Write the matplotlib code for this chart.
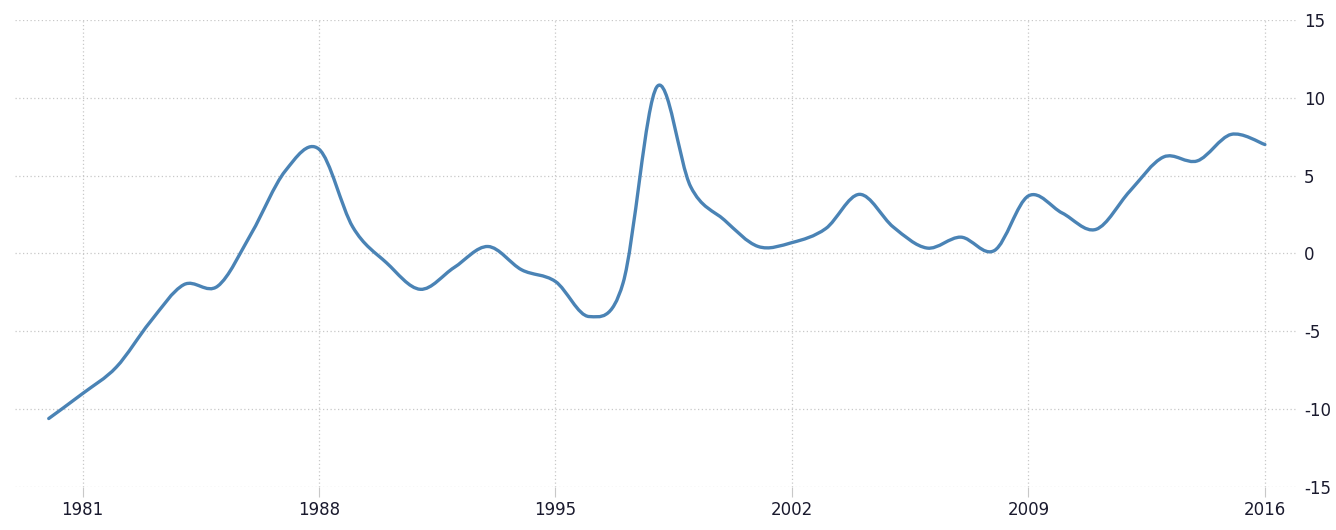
import numpy as np
import matplotlib
matplotlib.use("Agg")
import matplotlib.pyplot as plt
from matplotlib.path import Path
from matplotlib.patches import PathPatch

matplotlib.rcParams['axes.unicode_minus'] = False

# yearly values
years = list(range(1980, 2017))
values = [-10.6, -9.0, -7.3, -4.4, -2.0, -2.1, 1.3, 5.3, 6.7, 1.7,
          -0.6, -2.3, -0.9, 0.45, -1.05, -1.8, -4.05, -1.9, 10.7, 4.3,
          2.15, 0.45, 0.7, 1.6, 3.8, 1.7, 0.35, 1.05, 0.2, 3.7,
          2.6, 1.55, 4.0, 6.2, 5.95, 7.65, 7.0]
xtick_years = [1981, 1988, 1995, 2002, 2009, 2016]
yticks = [-15, -10, -5, 0, 5, 10, 15]

fig = plt.figure(figsize=(13.36, 5.3), dpi=100)
ax = fig.add_axes([0.0112, 0.0811, 0.9596, 0.8812])

# smooth line through the points (Catmull-Rom as cubic bezier)
x = np.array(years, dtype=float)
y = np.array(values, dtype=float)
verts = [(x[0], y[0])]
codes = [Path.MOVETO]
n = len(x)
for i in range(n - 1):
    p0 = i - 1 if i > 0 else i
    p3 = i + 2 if i + 2 < n else i + 1
    c1 = (x[i] + (x[i + 1] - x[p0]) / 6, y[i] + (y[i + 1] - y[p0]) / 6)
    c2 = (x[i + 1] - (x[p3] - x[i]) / 6, y[i + 1] - (y[p3] - y[i]) / 6)
    verts += [c1, c2, (x[i + 1], y[i + 1])]
    codes += [Path.CURVE4] * 3
ax.add_patch(PathPatch(Path(verts, codes), fill=False, edgecolor="#4a83b5",
                       linewidth=2.4, capstyle="round", joinstyle="round", zorder=3))

ax.set_xlim(1979.0, 2016.95)
ax.set_ylim(-15, 15)
ax.set_xticks(xtick_years)
ax.set_yticks(yticks)
ax.yaxis.tick_right()
ax.grid(True, color="#c8c8c8", linestyle=(0, (1, 2)), linewidth=0.9)
for s in ax.spines.values():
    s.set_visible(False)
ax.tick_params(axis="x", length=7, color="#c8c8c8", labelsize=12, labelcolor="#1a1a2e", pad=3)
ax.tick_params(axis="y", length=0, labelsize=12, labelcolor="#1a1a2e", pad=5)

fig.savefig("out.png", dpi=100)
